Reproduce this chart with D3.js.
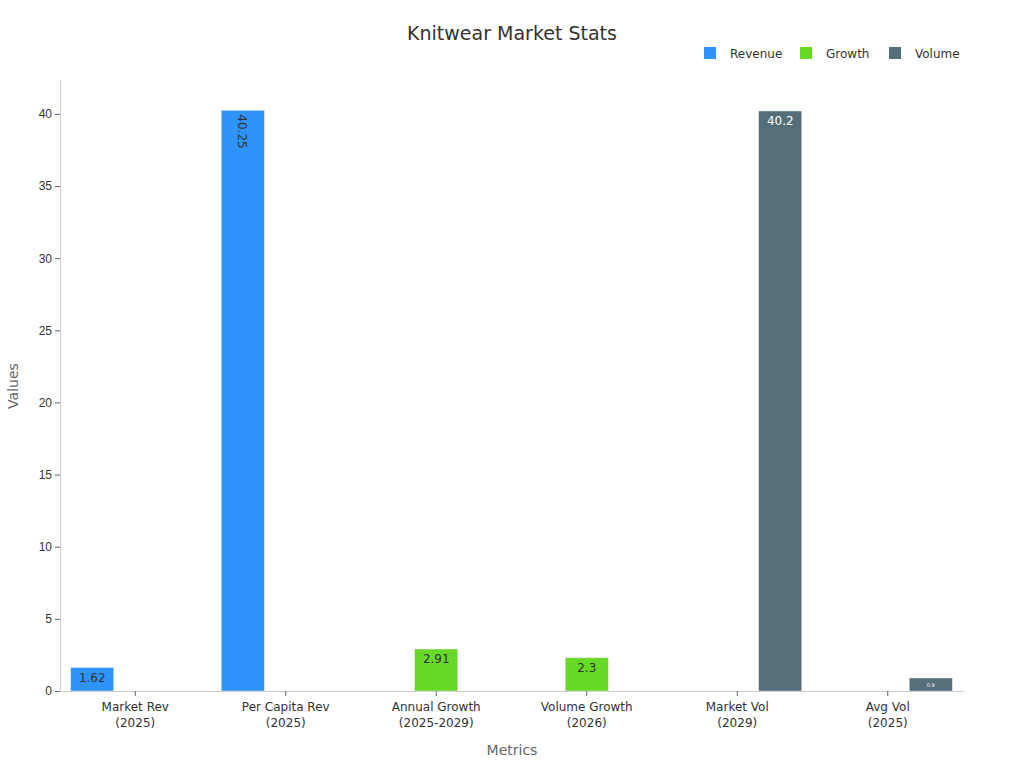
<!DOCTYPE html>
<html><head><meta charset="utf-8">
<script src="https://cdn.jsdelivr.net/npm/d3@7"></script>
<style>body{margin:0;background:#fff;font-family:"DejaVu Sans",sans-serif}</style>
</head><body><svg id="c" width="1024" height="768"></svg>
<script>
const categories = [["Market Rev","(2025)"],["Per Capita Rev","(2025)"],["Annual Growth","(2025-2029)"],["Volume Growth","(2026)"],["Market Vol","(2029)"],["Avg Vol","(2025)"]];
const seriesNames = ["Revenue","Growth","Volume"];
const seriesColors = ["#2e93fa","#66da26","#546e7a"];
const revenue = [1.62, 40.25, null, null, null, null];
const growth = [null, null, 2.91, 2.3, null, null];
const volume = [null, null, null, null, 40.2, 0.9];
const yTicks = [0,5,10,15,20,25,30,35,40];
const allSeries = [revenue, growth, volume];

const svg = d3.select("#c");
const L=60,R=963,T=80,B=691;
const x = d3.scaleBand().domain(d3.range(categories.length)).range([L,R]);
const xs = d3.scaleBand().domain(d3.range(3)).range([0,x.bandwidth()]).paddingInner(0).paddingOuter(0.25);
const y = d3.scaleLinear().domain([0,42.35]).range([B,T]);

svg.append("text").attr("x",512).attr("y",40).attr("text-anchor","middle").attr("font-size",19).attr("fill","#333").text("Knitwear Market Stats");

const ya = svg.append("g").attr("transform",`translate(${L},0)`).call(d3.axisLeft(y).tickValues(yTicks).tickSize(5).tickSizeOuter(0));
ya.select(".domain").attr("stroke","#ccc");
ya.selectAll(".tick line").attr("stroke","#666");
ya.selectAll("text").attr("font-size",12).attr("fill","#333");
const xa = svg.append("g").attr("transform",`translate(0,${B})`).call(d3.axisBottom(x).tickSize(5).tickSizeOuter(0).tickFormat(""));
xa.select(".domain").attr("stroke","#ccc");
xa.selectAll(".tick line").attr("stroke","#666");
categories.forEach((c,i)=>{
  const t=svg.append("text").attr("x",x(i)+x.bandwidth()/2).attr("y",B+20).attr("text-anchor","middle").attr("font-size",12).attr("fill","#333");
  t.append("tspan").attr("x",x(i)+x.bandwidth()/2).text(c[0]);
  t.append("tspan").attr("x",x(i)+x.bandwidth()/2).attr("dy",16).text(c[1]);
});
svg.append("text").attr("x",512).attr("y",755).attr("text-anchor","middle").attr("font-size",14).attr("fill","#666").text("Metrics");
svg.append("text").attr("transform","translate(18,386) rotate(-90)").attr("text-anchor","middle").attr("font-size",14).attr("fill","#666").text("Values");

allSeries.forEach((s,si)=>{
  s.forEach((v,i)=>{
    if(v==null) return;
    const bx=x(i)+xs(si), bw=xs.bandwidth();
    svg.append("rect").attr("x",bx).attr("y",y(v)).attr("width",bw).attr("height",B-y(v)).attr("fill",seriesColors[si]).attr("stroke","#e0e0e0").attr("stroke-width",0.5);
    const cx=bx+bw/2;
    const lc = si===2 ? "#fff" : "#333";
    if(v>30 && si===0){
      svg.append("text").attr("transform",`translate(${cx-5},${y(v)+4}) rotate(90)`).attr("font-size",12).attr("fill",lc).text(v);
    } else if(v<1){
      svg.append("text").attr("x",cx).attr("y",y(v)+8.5).attr("text-anchor","middle").attr("font-size",5).attr("fill",lc).text(v);
    } else {
      svg.append("text").attr("x",cx).attr("y",y(v)+14).attr("text-anchor","middle").attr("font-size",12).attr("fill",lc).text(v);
    }
  });
});

const lg = [[704,"Revenue"],[800,"Growth"],[889,"Volume"]];
lg.forEach((l,i)=>{
  svg.append("rect").attr("x",l[0]).attr("y",47).attr("width",12).attr("height",12).attr("fill",seriesColors[i]);
  svg.append("text").attr("x",l[0]+26).attr("y",58).attr("font-size",12).attr("fill","#333").text(seriesNames[i]);
});
</script></body></html>
